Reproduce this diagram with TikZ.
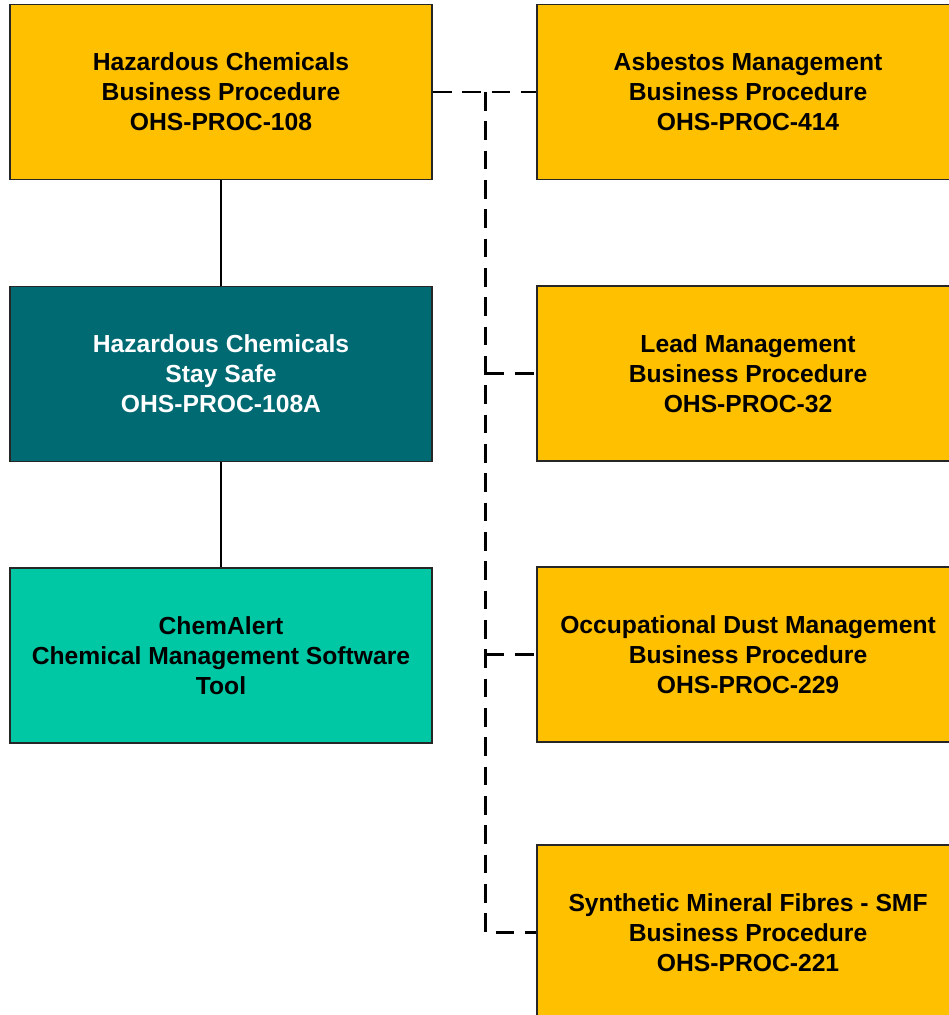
\documentclass[tikz,border=0pt]{standalone}
\usepackage{fontspec}
\setmainfont{Liberation Sans}
\usepackage{xcolor}
\usepackage{tikz}
\usetikzlibrary{positioning}
\definecolor{procyellow}{RGB}{255,192,0}
\definecolor{safeteal}{RGB}{0,106,115}
\definecolor{toolteal}{RGB}{0,200,165}

\begin{document}
\begin{tikzpicture}[node distance=79pt and 77.5pt,
    box/.style={rectangle, draw=black!85, line width=1.3pt, fill=procyellow,
                minimum width=316.5pt, minimum height=131.25pt, inner sep=0pt,
                align=center, font=\fontsize{18.5}{22.5}\selectfont\bfseries},
    link/.style={line width=1.5pt},
    dashlink/.style={line width=2pt, dash pattern=on 14pt off 8pt}]

\useasboundingbox (0,0) rectangle (711.75pt,-761.25pt);

% left column
\node[box] (hazchem) at (165.75pt,-69pt) {Hazardous Chemicals\\Business Procedure\\OHS-PROC-108};
\node[box, fill=safeteal, text=white, below=of hazchem] (staysafe) {Hazardous Chemicals\\Stay Safe\\OHS-PROC-108A};
\node[box, fill=toolteal, below=78.5pt of staysafe] (chemalert) {ChemAlert\\Chemical Management Software\\Tool};

% right column
\node[box, right=of hazchem] (asbestos) {Asbestos Management\\Business Procedure\\OHS-PROC-414};
\node[box, below=78.75pt of asbestos] (lead) {Lead Management\\Business Procedure\\OHS-PROC-32};
\node[box, below=78pt of lead] (dust) {Occupational Dust Management\\Business Procedure\\OHS-PROC-229};
\node[box, below=76pt of dust] (smf) {Synthetic Mineral Fibres - SMF\\Business Procedure\\OHS-PROC-221};

\coordinate[right=39.5pt of hazchem.east] (trunk);

\draw[link] (hazchem) -- (staysafe);
\draw[link] (staysafe) -- (chemalert);

\draw[dashlink] (hazchem.east) -- (asbestos.west);
\draw[dashlink] (trunk) -- (trunk |- smf.west) -- (smf.west);
\draw[dashlink] (trunk |- lead.west) -- (lead.west);
\draw[dashlink] (trunk |- dust.west) -- (dust.west);

\end{tikzpicture}
\end{document}
